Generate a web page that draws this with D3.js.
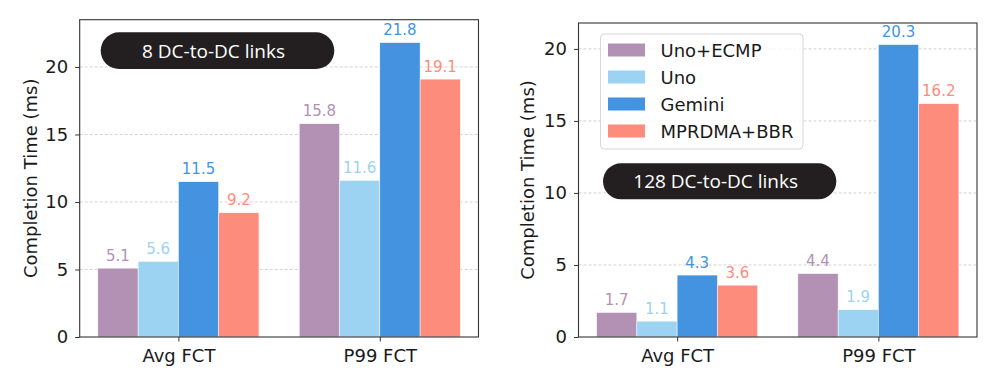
<!DOCTYPE html>
<html>
<head>
<meta charset="utf-8">
<script src="https://cdn.jsdelivr.net/npm/d3@7"></script>
<style>
  body { margin: 0; background: #fff; }
  text { font-family: "DejaVu Sans", sans-serif; }
</style>
</head>
<body>
<div id="chart"></div>
<script>
var width = 997,
    height = 388;

// data
var categories = ["Avg FCT", "P99 FCT"];
var seriesNames = ["Uno+ECMP", "Uno", "Gemini", "MPRDMA+BBR"];
var seriesColors = ["#b391b5", "#9cd3f3", "#4393e0", "#fe8c7d"];
var values8 = [[5.1, 15.8], [5.6, 11.6], [11.5, 21.8], [9.2, 19.1]];
var values128 = [[1.7, 4.4], [1.1, 1.9], [4.3, 20.3], [3.6, 16.2]];
var yTicks = [0, 5, 10, 15, 20];
var yLabel = "Completion Time (ms)";
var tagText8 = "8 DC-to-DC links";
var tagText128 = "128 DC-to-DC links";

var svg = d3.select("#chart").append("svg")
    .attr("width", width)
    .attr("height", height);

svg.append("rect").attr("width", width).attr("height", height).attr("fill", "#fff");

var barW = 0.2;

function panel(opts) {
    var x = d3.scaleLinear().domain([-0.49, 1.49]).range([opts.left, opts.right]);
    var y = d3.scaleLinear().domain([0, opts.ymax]).range([opts.bottom, opts.top]);
    var g = svg.append("g");

    // grid
    g.selectAll("line.grid")
        .data(yTicks.filter(function (d) { return d > 0; }))
        .enter().append("line")
        .attr("class", "grid")
        .attr("x1", opts.left).attr("x2", opts.right)
        .attr("y1", function (d) { return y(d); })
        .attr("y2", function (d) { return y(d); })
        .attr("stroke", "#c8c8c8")
        .attr("stroke-width", 0.8)
        .attr("stroke-dasharray", "3,2");

    // bars
    opts.values.forEach(function (vals, j) {
        g.selectAll("rect.s" + j)
            .data(vals)
            .enter().append("rect")
            .attr("class", "s" + j)
            .attr("x", function (d, i) { return x(i + (j - 1.5) * barW - barW / 2); })
            .attr("width", x(barW) - x(0))
            .attr("y", function (d) { return y(d); })
            .attr("height", function (d) { return y(0) - y(d); })
            .attr("fill", seriesColors[j])
            .attr("stroke", "#fff")
            .attr("stroke-width", 0.5);

        g.selectAll("text.v" + j)
            .data(vals)
            .enter().append("text")
            .attr("class", "v" + j)
            .attr("x", function (d, i) { return x(i + (j - 1.5) * barW); })
            .attr("y", function (d) { return y(d) - 7.5; })
            .attr("text-anchor", "middle")
            .attr("font-size", "15px")
            .attr("fill", seriesColors[j])
            .text(function (d) { return d.toFixed(1); });
    });

    // frame
    g.append("rect")
        .attr("x", opts.left).attr("y", opts.top)
        .attr("width", opts.right - opts.left)
        .attr("height", opts.bottom - opts.top)
        .attr("fill", "none")
        .attr("stroke", "#333")
        .attr("stroke-width", 1.1);

    // y axis
    var yAxis = d3.axisLeft(y).tickValues(yTicks).tickSize(4.5).tickPadding(7);
    var ya = g.append("g").attr("transform", "translate(" + opts.left + ",0)").call(yAxis);
    ya.select(".domain").remove();
    ya.selectAll("line").attr("stroke", "#333").attr("stroke-width", 1);
    ya.selectAll("text").attr("font-size", "18px").attr("fill", "#1a1a1a")
        .attr("font-family", "DejaVu Sans");

    // x axis
    var xAxis = d3.axisBottom(x).tickValues([0, 1])
        .tickFormat(function (d) { return categories[d]; })
        .tickSize(4.5).tickPadding(7.5);
    var xa = g.append("g").attr("transform", "translate(0," + opts.bottom + ")").call(xAxis);
    xa.select(".domain").remove();
    xa.selectAll("line").attr("stroke", "#333").attr("stroke-width", 1);
    xa.selectAll("text").attr("font-size", "18px").attr("fill", "#1a1a1a")
        .attr("font-family", "DejaVu Sans");

    // y label
    g.append("text")
        .attr("transform", "translate(" + opts.labelX + "," + ((opts.top + opts.bottom) / 2) + ") rotate(-90)")
        .attr("text-anchor", "middle")
        .attr("dominant-baseline", "central")
        .attr("font-size", "18px")
        .attr("fill", "#1a1a1a")
        .text(yLabel);

    // tag
    var t = opts.tag;
    g.append("rect")
        .attr("x", t.x).attr("y", t.y)
        .attr("width", t.w).attr("height", t.h)
        .attr("rx", t.h / 2)
        .attr("fill", "#231f20");
    g.append("text")
        .attr("x", t.x + t.w / 2 - 4)
        .attr("y", t.y + t.h / 2 + 7)
        .attr("text-anchor", "middle")
        .attr("font-size", "19px")
        .attr("fill", "#fff")
        .style("font-family", "'Open Sans', sans-serif")
        .text(t.text);

    return g;
}

panel({
    left: 79.7, right: 478.5, top: 19.7, bottom: 337, ymax: 23.5,
    values: values8, labelX: 30,
    tag: { x: 100.7, y: 32.3, w: 233.6, h: 36.7, text: tagText8 }
});

var g2 = panel({
    left: 578.5, right: 977, top: 23, bottom: 337, ymax: 21.8,
    values: values128, labelX: 527.5,
    tag: { x: 603, y: 163.3, w: 233.3, h: 36, text: tagText128 }
});

// legend
var legend = g2.append("g");
legend.append("rect")
    .attr("x", 600.5).attr("y", 34)
    .attr("width", 202.5).attr("height", 115)
    .attr("rx", 4)
    .attr("fill", "#fff").attr("fill-opacity", 0.8)
    .attr("stroke", "#d6d6d6").attr("stroke-width", 1);

var rows = legend.selectAll("g.row")
    .data(seriesNames)
    .enter().append("g")
    .attr("class", "row")
    .attr("transform", function (d, i) { return "translate(0," + (50 + i * 27) + ")"; });

rows.append("rect")
    .attr("x", 608).attr("y", -6.5)
    .attr("width", 37).attr("height", 13)
    .attr("fill", function (d, i) { return seriesColors[i]; });

rows.append("text")
    .attr("x", 660.5).attr("y", 6.5)
    .attr("font-size", "18px")
    .attr("fill", "#1a1a1a")
    .text(function (d) { return d; });
</script>
</body>
</html>
